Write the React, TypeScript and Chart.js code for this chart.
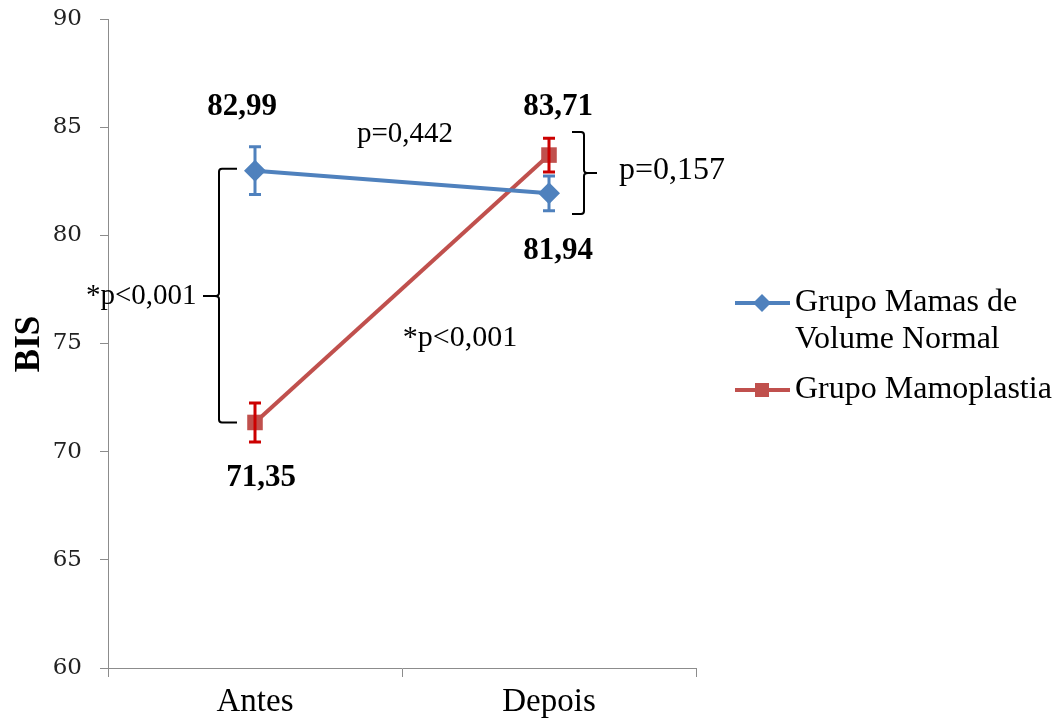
import React, { useEffect, useRef } from "react";
import { Chart, registerables } from "chart.js";

Chart.register(...registerables);

const categories = ["Antes", "Depois"];
const normalValues = [82.99, 81.94];
const normalErrors = [1.1, 0.8];
const mamoValues = [71.35, 83.71];
const mamoErrors = [0.9, 0.78];
const normalLabels = ["82,99", "81,94"];
const mamoLabels = ["71,35", "83,71"];
const yTicks = [60, 65, 70, 75, 80, 85, 90];
const seriesNames = [["Grupo Mamas de", "Volume Normal"], ["Grupo Mamoplastia"]];

const BLUE = "#4F81BD";
const RED = "#C0504D";
const RED_ERR = "#CC0000";
const SERIF = "'Liberation Serif', 'Times New Roman', serif";

const annotPlugin = {
  id: "annot",
  afterDatasetsDraw(chart: any) {
    const ctx = chart.ctx;
    const xs = chart.scales.x;
    const ys = chart.scales.y;
    const drawErr = (vals: number[], errs: number[], color: string) => {
      ctx.save();
      ctx.strokeStyle = color;
      ctx.lineWidth = 3;
      vals.forEach((v, i) => {
        const x = xs.getPixelForValue(i);
        const t = ys.getPixelForValue(v + errs[i]);
        const b = ys.getPixelForValue(v - errs[i]);
        ctx.beginPath();
        ctx.moveTo(x, t);
        ctx.lineTo(x, b);
        ctx.moveTo(x - 6, t);
        ctx.lineTo(x + 6, t);
        ctx.moveTo(x - 6, b);
        ctx.lineTo(x + 6, b);
        ctx.stroke();
      });
      ctx.restore();
    };
    drawErr(normalValues, normalErrors, BLUE);
    drawErr(mamoValues, mamoErrors, RED_ERR);
  },
  afterDraw(chart: any) {
    const ctx = chart.ctx;
    const xs = chart.scales.x;
    const ys = chart.scales.y;
    const xA = xs.getPixelForValue(0);
    const xD = xs.getPixelForValue(1);
    ctx.save();
    ctx.fillStyle = "#000";
    ctx.textBaseline = "middle";
    ctx.textAlign = "center";
    ctx.font = `bold 31px ${SERIF}`;
    ctx.fillText(normalLabels[0], xA - 13, ys.getPixelForValue(normalValues[0]) - 64);
    ctx.fillText(mamoLabels[0], xA + 6, ys.getPixelForValue(mamoValues[0]) + 56);
    ctx.fillText(mamoLabels[1], xD + 9, ys.getPixelForValue(mamoValues[1]) - 48);
    ctx.fillText(normalLabels[1], xD + 9, ys.getPixelForValue(normalValues[1]) + 58);

    ctx.font = `29px ${SERIF}`;
    ctx.fillText("p=0,442", 405, 134);
    ctx.font = `30px ${SERIF}`;
    ctx.fillText("*p<0,001", 460, 338);
    ctx.textAlign = "left";
    ctx.font = `29px ${SERIF}`;
    ctx.fillText("*p<0,001", 86, 296);
    ctx.font = `32px ${SERIF}`;
    ctx.fillText("p=0,157", 619, 171);

    ctx.save();
    ctx.translate(30, 344);
    ctx.rotate(-Math.PI / 2);
    ctx.textAlign = "center";
    ctx.font = `bold 35px ${SERIF}`;
    ctx.fillText("BIS", 0, 0);
    ctx.restore();

    ctx.strokeStyle = "#000";
    ctx.lineWidth = 2;
    const lx = 219;
    const lt = ys.getPixelForValue(normalValues[0]) - 2;
    const lb = ys.getPixelForValue(mamoValues[0]);
    const lm = 296;
    ctx.beginPath();
    ctx.moveTo(237, lt);
    ctx.lineTo(lx + 3, lt);
    ctx.quadraticCurveTo(lx, lt, lx, lt + 3);
    ctx.lineTo(lx, lm - 3);
    ctx.quadraticCurveTo(lx, lm, lx - 4, lm);
    ctx.lineTo(203, lm);
    ctx.moveTo(lx - 4, lm);
    ctx.quadraticCurveTo(lx, lm, lx, lm + 3);
    ctx.lineTo(lx, lb - 3);
    ctx.quadraticCurveTo(lx, lb, lx + 3, lb);
    ctx.lineTo(237, lb);
    ctx.stroke();

    const rx = 584;
    const rt = 132;
    const rb = 214;
    const rm = 173;
    ctx.beginPath();
    ctx.moveTo(572, rt);
    ctx.lineTo(rx - 3, rt);
    ctx.quadraticCurveTo(rx, rt, rx, rt + 3);
    ctx.lineTo(rx, rm - 3);
    ctx.quadraticCurveTo(rx, rm, rx + 4, rm);
    ctx.lineTo(597, rm);
    ctx.moveTo(rx + 4, rm);
    ctx.quadraticCurveTo(rx, rm, rx, rm + 3);
    ctx.lineTo(rx, rb - 3);
    ctx.quadraticCurveTo(rx, rb, rx - 3, rb);
    ctx.lineTo(572, rb);
    ctx.stroke();

    const drawLegend = (y: number, color: string, shape: string, lines: string[]) => {
      ctx.strokeStyle = color;
      ctx.lineWidth = 4;
      ctx.beginPath();
      ctx.moveTo(735, y);
      ctx.lineTo(790, y);
      ctx.stroke();
      ctx.fillStyle = color;
      if (shape === "diamond") {
        ctx.beginPath();
        ctx.moveTo(762, y - 9);
        ctx.lineTo(771, y);
        ctx.lineTo(762, y + 9);
        ctx.lineTo(753, y);
        ctx.closePath();
        ctx.fill();
      } else {
        ctx.fillRect(755, y - 7, 14, 14);
      }
      ctx.fillStyle = "#000";
      ctx.textAlign = "left";
      ctx.font = `32px ${SERIF}`;
      lines.forEach((l, i) => ctx.fillText(l, 795, y + i * 37));
    };
    drawLegend(303, BLUE, "diamond", seriesNames[0]);
    drawLegend(390, RED, "square", seriesNames[1]);
    ctx.restore();
  },
};

export default function App() {
  const ref = useRef<HTMLCanvasElement>(null);
  useEffect(() => {
    if (!ref.current) return;
    const chart = new Chart(ref.current, {
      type: "line",
      data: {
        labels: categories,
        datasets: [
          {
            label: seriesNames[0].join(" "),
            data: normalValues,
            borderColor: BLUE,
            backgroundColor: BLUE,
            borderWidth: 4,
            pointStyle: "rectRot",
            pointRadius: 11,
            pointBorderWidth: 0,
          },
          {
            label: seriesNames[1][0],
            data: mamoValues,
            borderColor: RED,
            backgroundColor: RED,
            borderWidth: 4,
            pointStyle: "rect",
            pointRadius: 11,
            pointBorderWidth: 0,
          },
        ],
      },
      options: {
        responsive: false,
        animation: false,
        layout: { padding: { left: 0, right: 368, top: 19, bottom: 0 } },
        plugins: { legend: { display: false }, tooltip: { enabled: false } },
        scales: {
          x: {
            offset: true,
            grid: {
              offset: true,
              drawOnChartArea: false,
              drawTicks: true,
              tickLength: 9,
              color: "#8c8c8c",
            },
            border: { color: "#8c8c8c", width: 1 },
            ticks: {
              color: "#000",
              font: { family: SERIF, size: 33 },
              padding: 6,
            },
            afterFit: (s: any) => {
              s.height = 56;
              s.paddingLeft = 0;
              s.paddingRight = 0;
            },
          },
          y: {
            min: 60,
            max: 90,
            afterBuildTicks: (s: any) => {
              s.ticks = yTicks.map((v) => ({ value: v }));
            },
            grid: {
              drawOnChartArea: false,
              drawTicks: true,
              tickLength: 8,
              color: "#8c8c8c",
            },
            border: { color: "#8c8c8c", width: 1 },
            ticks: {
              color: "#222",
              font: { family: "'DejaVu Serif', serif", size: 23 },
              padding: 18,
            },
            afterFit: (s: any) => {
              s.width = 108;
              s.paddingTop = 0;
              s.paddingBottom = 0;
            },
          },
        },
      },
      plugins: [annotPlugin],
    });
    return () => chart.destroy();
  }, []);
  return (
    <div style={{ position: "fixed", left: 0, top: 0, width: 1064, height: 724, background: "#fff" }}>
      <canvas ref={ref} width={1064} height={724} />
    </div>
  );
}
